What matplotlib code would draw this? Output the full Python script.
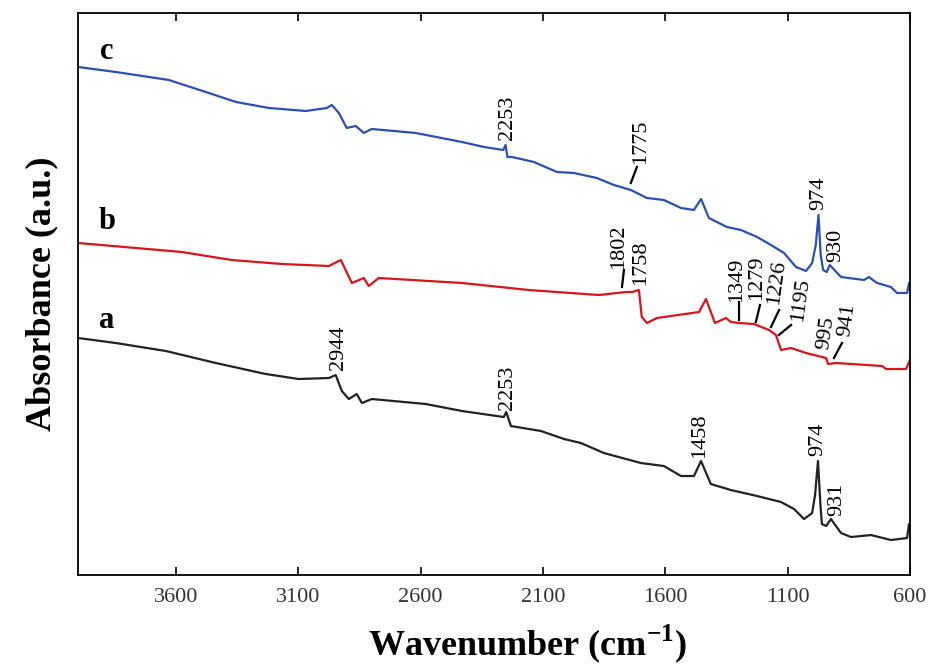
import matplotlib.pyplot as plt

plt.rcParams['font.family'] = ['Liberation Serif', 'DejaVu Serif']

# spectrum a (black)
wn_a = [4000, 3846, 3641, 3437, 3233, 3098, 2975, 2947, 2922, 2893, 2861, 2840, 2799,
        2579, 2431, 2260, 2250, 2231, 2108, 2014, 1945, 1851, 1700, 1606, 1536, 1483,
        1454, 1414, 1332, 1225, 1127, 1074, 1033, 1000, 988, 976, 966, 960, 943, 923,
        882, 841, 759, 678, 612, 604, 600]
abs_a = [237, 232, 224, 212, 201, 196, 197, 200, 184, 176, 181, 172, 176,
         171, 164, 158, 163, 149, 144, 136, 132, 122, 112, 109, 99, 99,
         114, 91, 85, 79, 73, 66, 56, 62, 80, 114, 70, 51, 49, 56,
         42, 38, 40, 35, 37, 51, 45]

# spectrum b (red)
wn_b = [4000, 3576, 3372, 3167, 2975, 2926, 2881, 2832, 2812, 2771, 2431, 2158, 1871,
        1761, 1736, 1708, 1696, 1675, 1634, 1462, 1434, 1397, 1352, 1332, 1299, 1238,
        1176, 1148, 1127, 1086, 1025, 943, 935, 902, 714, 698, 616, 604, 600]
abs_b = [332, 323, 315, 311, 309, 315, 292, 297, 289, 297, 292, 285, 280,
         283, 283, 285, 258, 252, 257, 263, 276, 252, 257, 253, 252, 251,
         245, 240, 225, 227, 222, 217, 211, 212, 209, 206, 206, 213, 215]

# spectrum c (blue)
wn_c = [4000, 3846, 3629, 3478, 3355, 3220, 3069, 2983, 2963, 2934, 2902, 2865, 2832,
        2800, 2620, 2431, 2341, 2262, 2253, 2245, 2227, 2137, 2043, 1974, 1880, 1810,
        1741, 1675, 1606, 1536, 1483, 1454, 1422, 1348, 1291, 1225, 1168, 1115, 1066,
        1025, 1000, 985, 974, 965, 955, 940, 928, 882, 788, 768, 735, 678, 653, 612,
        604, 600]
abs_c = [508, 503, 495, 483, 473, 467, 464, 467, 470, 462, 447, 449, 442,
         446, 442, 433, 428, 425, 430, 418, 418, 413, 403, 402, 397, 390,
         385, 377, 375, 367, 365, 376, 357, 348, 345, 338, 330, 322, 308,
         304, 312, 330, 360, 320, 305, 303, 310, 298, 295, 298, 292, 288, 282, 282,
         292, 285]

# peak labels: text, wavenumber, height, rotation
peak_labels = [
    ('2253', 2243, 457, 90), ('1775', 1700, 433, 90), ('974', 972, 382, 90), ('930', 903, 330, 90),
    ('1802', 1790, 328, 90), ('1758', 1700, 312, 90), ('1349', 1307, 295, 90),
    ('1279', 1225, 297, 90), ('1226', 1144, 293, 82), ('1195', 1046, 275, 82),
    ('995', 943, 242, 82), ('941', 858, 255, 82),
    ('2944', 2934, 227, 90), ('2253', 2243, 187, 90), ('1458', 1458, 139, 90),
    ('974', 976, 136, 90), ('931', 898, 76, 90),
]
# leader lines: (x0, x1), (y0, y1)
leaders = [
    ((1716, 1741), (408, 392)), ((1769, 1777), (305, 288)), ((1299, 1299), (273, 255)),
    ((1213, 1230), (270, 253)), ((1135, 1168), (265, 248)), ((1086, 1136), (250, 240)),
    ((878, 911), (232, 217)),
]
curve_names = ['a', 'b', 'c']
name_pos = [(3883, 255), (3883, 353), (3883, 523)]

fig = plt.figure(figsize=(9.3, 6.72), dpi=100)
ax = fig.add_axes([0.0839, 0.1443, 0.8946, 0.8364])

ax.plot(wn_a, abs_a, color='#222222', lw=1.6)
ax.plot(wn_b, abs_b, color='#d8141c', lw=1.6)
ax.plot(wn_c, abs_c, color='#2c4fb3', lw=1.6)

for txt, x, y, rot in peak_labels:
    ax.text(x, y, txt, rotation=rot, ha='center', va='center', fontsize=16)
for xs, ys in leaders:
    ax.plot(xs, ys, color='black', lw=1.6)
for name, (x, y) in zip(curve_names, name_pos):
    ax.text(x, y, name, ha='center', va='center', fontsize=22, fontweight='bold')

ax.set_xlim(4000, 600)
ax.set_ylim(0, 562)
ax.set_xticks([3600, 3100, 2600, 2100, 1600, 1100, 600])
ax.set_yticks([])
ax.tick_params(axis='x', direction='in', top=True, length=6, width=1.2, labelsize=16,
               pad=9, labelcolor='#333333')
for s in ax.spines.values():
    s.set_linewidth(1.3)

ax.set_xlabel('Wavenumber (cm$^{\\mathregular{-1}}$)', fontsize=26, fontweight='bold')
ax.xaxis.set_label_coords(0.54, -0.085)
ax.set_ylabel('Absorbance (a.u.)', fontsize=26, fontweight='bold', labelpad=14)

fig.savefig('out.png', dpi=100)
